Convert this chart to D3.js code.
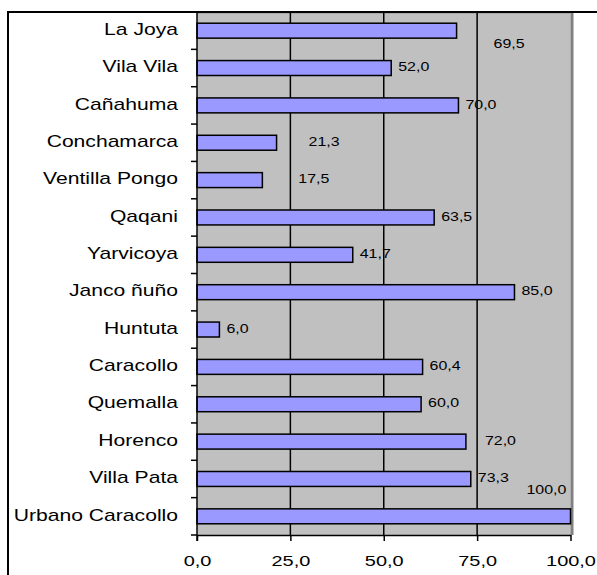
<!DOCTYPE html>
<html><head><meta charset="utf-8">
<script src="https://cdn.jsdelivr.net/npm/d3@7/dist/d3.min.js"></script>
<style>
html,body{margin:0;padding:0;background:#fff;}
svg{display:block;font-family:"Liberation Sans",Arial,sans-serif;}
</style></head>
<body>
<svg id="chart" width="597" height="575"></svg>
<script>
const categories = ["La Joya","Vila Vila","Cañahuma","Conchamarca","Ventilla Pongo","Qaqani","Yarvicoya","Janco ñuño","Huntuta","Caracollo","Quemalla","Horenco","Villa Pata","Urbano Caracollo"];
const values = [69.5,52.0,70.0,21.3,17.5,63.5,41.7,85.0,6.0,60.4,60.0,72.0,73.3,100.0];
const tickValues = [0,25,50,75,100];
const tickLabels = ["0,0","25,0","50,0","75,0","100,0"];

// label placement nudges (Excel-style manual placements), by category
const labelNudge = {
  "La Joya":[30,14], "Conchamarca":[25,0], "Ventilla Pongo":[29,0],
  "Horenco":[12,0], "Urbano Caracollo":[-51,-25.5]
};

const svg = d3.select("#chart");
const L = 197, R = 570.5, T = 12, B = 535;
const x = d3.scaleLinear().domain([0,100]).range([L,R]);
const y = d3.scaleBand().domain(categories).range([T,B]).paddingInner(0.6).paddingOuter(0.3);
const yb = d3.scaleBand().domain(categories).range([T,B]);
const fmt = v => v.toFixed(1).replace(".",",");

// outer frame
svg.append("line").attr("x1",8).attr("x2",8).attr("y1",11).attr("y2",575).attr("stroke","#000").attr("stroke-width",2);
svg.append("line").attr("x1",7).attr("x2",597).attr("y1",12).attr("y2",12).attr("stroke","#000").attr("stroke-width",2);

// plot background
svg.append("rect").attr("x",L).attr("y",T+1).attr("width",R-L).attr("height",B-T-1).attr("fill","#C0C0C0");
svg.append("line").attr("x1",R+1.5).attr("x2",R+1.5).attr("y1",T+1).attr("y2",B).attr("stroke","#808080").attr("stroke-width",3);
svg.append("line").attr("x1",L).attr("x2",R).attr("y1",T+1.5).attr("y2",T+1.5).attr("stroke","#a8a8a8").attr("stroke-width",1);

// gridlines
svg.append("g").selectAll("line").data(tickValues.filter(v=>v>0&&v<100)).join("line")
  .attr("x1",d=>x(d)).attr("x2",d=>x(d)).attr("y1",T).attr("y2",B)
  .attr("stroke","#000").attr("stroke-width",1.5);

// bars
svg.append("g").selectAll("rect").data(categories).join("rect")
  .attr("x",x(0)).attr("y",d=>y(d))
  .attr("width",(d,i)=>x(values[i])-x(0)).attr("height",y.bandwidth())
  .attr("fill","#9999FF").attr("stroke","#000").attr("stroke-width",1.5);

// axes
const xAxis = d3.axisBottom(x).tickValues(tickValues).tickFormat((d,i)=>tickLabels[i]).tickSize(6).tickSizeOuter(0);
const gx = svg.append("g").attr("transform",`translate(0,${B})`).call(xAxis);
gx.select(".domain").attr("stroke","#000").attr("stroke-width",1.5);
gx.selectAll(".tick line").attr("stroke","#000").attr("stroke-width",1.5);
gx.selectAll(".tick text").attr("font-size",15).attr("fill","#000")
  .attr("font-family","Liberation Sans, Arial, sans-serif")
  .attr("y",0).attr("dy",0)
  .attr("transform","translate(0,27) scale(1.33,1)").attr("dominant-baseline","middle");

// y axis line and ticks at band boundaries
svg.append("line").attr("x1",L).attr("x2",L).attr("y1",T).attr("y2",B+6).attr("stroke","#000").attr("stroke-width",1.5);
const bounds = categories.map(c=>yb(c)).slice(1).concat([B]);
svg.append("g").selectAll("line").data(bounds).join("line")
  .attr("x1",L-6).attr("x2",L).attr("y1",d=>d).attr("y2",d=>d)
  .attr("stroke","#000").attr("stroke-width",1.5);

// category labels
svg.append("g").selectAll("text").data(categories).join("text")
  .attr("transform",d=>`translate(178,${yb(d)+yb.bandwidth()/2}) scale(1.32,1)`)
  .attr("text-anchor","end").attr("dominant-baseline","middle")
  .attr("font-size",16).attr("fill","#000").text(d=>d);

// value labels
svg.append("g").selectAll("text").data(categories).join("text")
  .attr("transform",(d,i)=>{
    const n = labelNudge[d]||[0,0];
    return `translate(${x(values[i])+7+n[0]},${y(d)+y.bandwidth()/2+n[1]}) scale(1.33,1)`;
  })
  .attr("dominant-baseline","middle")
  .attr("font-size",12).attr("fill","#000").text((d,i)=>fmt(values[i]));
</script>
</body></html>
